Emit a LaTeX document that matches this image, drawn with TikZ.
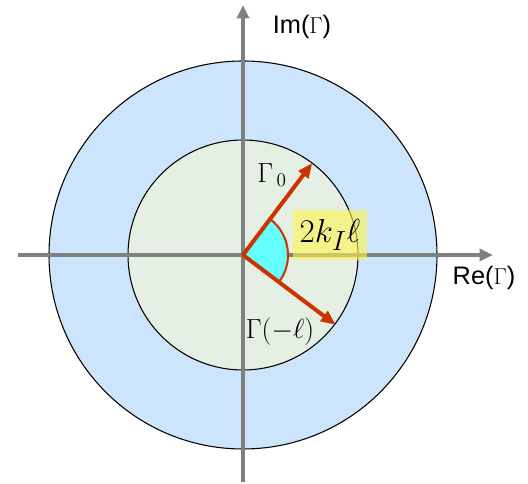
\documentclass[tikz,border=0pt]{standalone}
\usepackage{fontspec}
\setsansfont{Liberation Sans}
\setmainfont{Liberation Serif}
\usetikzlibrary{arrows.meta}
\definecolor{outerblue}{RGB}{204,228,252}
\definecolor{innergreen}{RGB}{229,239,227}
\definecolor{phasecyan}{RGB}{102,255,255}
\definecolor{vecred}{RGB}{204,51,0}
\definecolor{axisgray}{RGB}{128,128,128}
\tikzset{
  axis/.style={draw=axisgray, line width=3pt, -{Triangle[length=10pt,width=9pt]}},
  vec/.style={draw=vecred, line width=3pt, -{Triangle[length=11pt,width=9pt]}},
  lab/.style={font=\fontsize{22}{26}\selectfont, inner sep=0pt},
  axlab/.style={font=\fontsize{19}{22}\selectfont\sffamily, inner sep=0pt},
}
\begin{document}
\begin{tikzpicture}[x=0.75pt, y=0.75pt]
        \useasboundingbox (-243,-229) rectangle (285,255);
        \coordinate (O) at (0,0);
        % Circles
        \fill[outerblue, draw=black, line width=0.8pt] (O) circle (194);
        \fill[innergreen, draw=black, line width=0.8pt] (O) circle (115);
        % Axes
        \coordinate (xL) at (-225,0);
        \coordinate (xR) at (250,0);
        \coordinate (yB) at (0,-227);
        \coordinate (yT) at (0,250);
        \draw[axis] (xL) -- (xR);
        \draw[axis] (yB) -- (yT);
        \node[axlab] (im) at (59,228) {Im($\Gamma$)};
        \node[axlab] (re) at (241,-23) {Re($\Gamma$)};
        % Angle between the two vectors
        \filldraw[fill=phasecyan, draw=vecred, line width=1.5pt] (O) -- (-37:45) arc (-37:53:45) -- cycle;
        % Vectors
        \coordinate (g0) at (53:115);
        \coordinate (gl) at (-37:116);
        \draw[vec] (O) -- (g0);
        \draw[vec] (O) -- (gl);
        \node[lab] (g0lab) at (29,80) {$\Gamma_{\,0}$};
        \node[lab] (gllab) at (37,-77) {$\Gamma(-\ell)$};
        % Angle label
        \node[lab, font=\fontsize{28}{32}\selectfont, fill=yellow!70, fill opacity=0.6, text opacity=1,
              minimum width=55pt, minimum height=38pt] (ang) at (87,20) {$2k_I\ell$};
\end{tikzpicture}
\end{document}
